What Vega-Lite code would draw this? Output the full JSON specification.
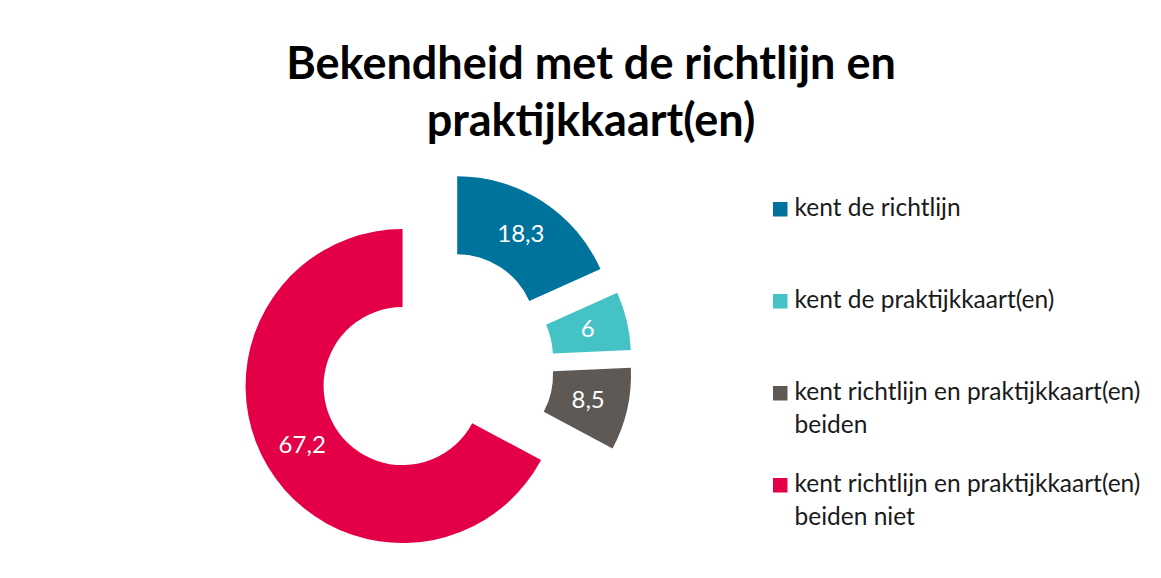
{
  "$schema": "https://vega.github.io/schema/vega-lite/v6.json",
  "width": 872,
  "height": 418,
  "padding": {"left": 0, "top": 43, "right": 5, "bottom": 0},
  "background": "white",
  "config": {
    "view": {"stroke": null},
    "locale": {"number": {"decimal": ",", "thousands": ".", "grouping": [3], "currency": ["€", ""]}},
    "font": "Lato"
  },
  "title": {
    "text": ["Bekendheid met de richtlijn en", "praktijkkaart(en)"],
    "fontSize": 45,
    "font": "Lato",
    "fontWeight": "bold",
    "color": "#000000",
    "lineHeight": 57,
    "anchor": "middle",
    "frame": "group",
    "dx": 155,
    "offset": 12
  },
  "data": {
    "values": [
      {"category": "kent de richtlijn", "value": 18.3, "order": 1},
      {"category": "kent de praktijkkaart(en)", "value": 6, "order": 2},
      {"category": "kent richtlijn en praktijkkaart(en) beiden", "value": 8.5, "order": 3},
      {"category": "kent richtlijn en praktijkkaart(en) beiden niet", "value": 67.2, "order": 4}
    ]
  },
  "encoding": {
    "theta": {"field": "value", "type": "quantitative", "stack": true},
    "order": {"field": "order", "type": "quantitative"}
  },
  "layer": [
    {
      "mark": {
        "type": "arc",
        "outerRadius": 157,
        "innerRadius": 79,
        "xOffset": {"expr": "39*sin(scale('theta', (datum.value_start + datum.value_end)/2))"},
        "yOffset": {"expr": "-39*cos(scale('theta', (datum.value_start + datum.value_end)/2))"}
      },
      "encoding": {
        "color": {
          "field": "category",
          "type": "nominal",
          "scale": {
            "domain": ["kent de richtlijn", "kent de praktijkkaart(en)", "kent richtlijn en praktijkkaart(en) beiden", "kent richtlijn en praktijkkaart(en) beiden niet"],
            "range": ["#00739D", "#44C2C6", "#5E5955", "#E40046"]
          },
          "legend": {
            "orient": "none",
            "legendX": 768,
            "legendY": 40,
            "title": null,
            "padding": 0,
            "symbolType": "square",
            "symbolSize": 210,
            "symbolStrokeWidth": 0,
            "symbolOpacity": 1,
            "labelFont": "Lato",
            "labelFontSize": 24.5,
            "labelColor": "#1a1a1a",
            "labelLimit": 500,
            "labelOffset": 2,
            "labelBaseline": "alphabetic",
            "rowPadding": 34,
            "gridAlign": "all",
            "labelExpr": "indexof(datum.label, ' beiden') > 0 ? [substring(datum.label, 0, indexof(datum.label, ' beiden')), substring(datum.label, indexof(datum.label, ' beiden') + 1)] : datum.label",
            "encode": {"labels": {"update": {"dy": {"value": 7}, "lineHeight": {"value": 33}}}}
          }
        }
      }
    },
    {
      "mark": {
        "type": "text",
        "radius": 117,
        "fontSize": 24,
        "font": "Lato",
        "color": "white",
        "xOffset": {"expr": "39*sin(scale('theta', (datum.value_start + datum.value_end)/2))"},
        "yOffset": {"expr": "-39*cos(scale('theta', (datum.value_start + datum.value_end)/2))"}
      },
      "encoding": {
        "text": {"field": "value", "type": "quantitative", "format": ".3~g"},
        "detail": {"field": "category", "type": "nominal"}
      }
    }
  ]
}
